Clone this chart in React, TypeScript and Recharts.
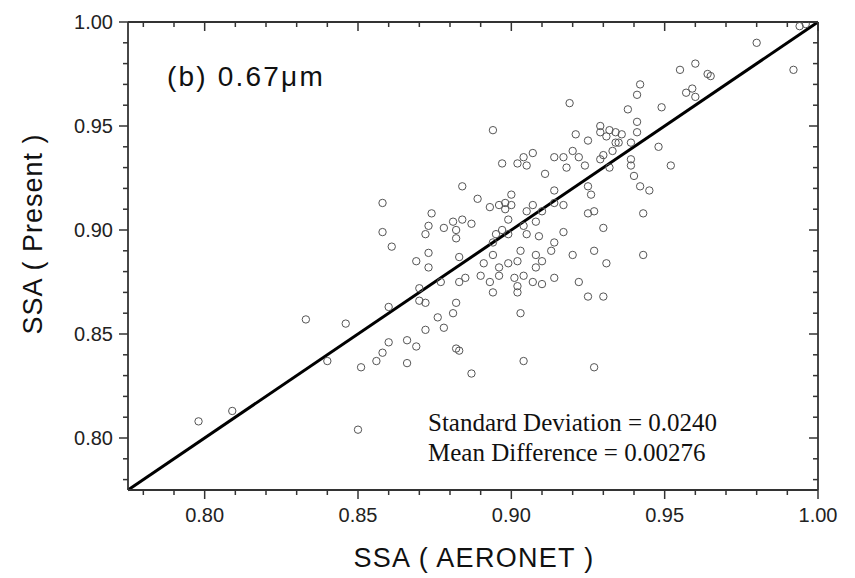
import { ScatterChart, Scatter, XAxis, YAxis, ReferenceLine } from "recharts";

// SSA at 0.67 um: AERONET (x) vs present retrieval (y)
const aeronetSSA = [
  0.798, 0.809, 0.833, 0.846, 0.840, 0.851, 0.850, 0.856, 0.858, 0.860,
  0.858, 0.858, 0.861, 0.860, 0.866, 0.869, 0.866, 0.870, 0.872, 0.870,
  0.877, 0.882, 0.881, 0.876, 0.878, 0.872, 0.882, 0.883, 0.887, 0.904,
  0.903, 0.920, 0.927, 0.931, 0.943, 0.914, 0.922, 0.925, 0.930, 0.927,
  0.942, 0.941, 0.919, 0.938, 0.949, 0.957, 0.959, 0.960, 0.941, 0.941,
  0.929, 0.932, 0.929, 0.934, 0.936, 0.921, 0.925, 0.931, 0.934, 0.935,
  0.939, 0.948, 0.952, 0.914, 0.917, 0.920, 0.922, 0.924, 0.918, 0.929,
  0.930, 0.933, 0.932, 0.939, 0.939, 0.940, 0.942, 0.945, 0.925, 0.926,
  0.914, 0.914, 0.917, 0.925, 0.927, 0.943, 0.930, 0.917, 0.914, 0.913,
  0.980, 0.992, 0.994, 0.996, 0.955, 0.960, 0.964, 0.965, 0.894, 0.897,
  0.902, 0.904, 0.907, 0.905, 0.911, 0.884, 0.889, 0.900, 0.893, 0.896,
  0.898, 0.898, 0.907, 0.905, 0.910, 0.908, 0.874, 0.873, 0.872, 0.878,
  0.881, 0.884, 0.887, 0.882, 0.882, 0.899, 0.897, 0.899, 0.895, 0.894,
  0.904, 0.905, 0.909, 0.873, 0.869, 0.873, 0.883, 0.894, 0.891, 0.903,
  0.883, 0.885, 0.890, 0.893, 0.896, 0.894, 0.901, 0.902, 0.902, 0.904,
  0.907, 0.910, 0.896, 0.899, 0.902, 0.908, 0.910, 0.908, 0.900,
];

const presentSSA = [
  0.808, 0.813, 0.857, 0.855, 0.837, 0.834, 0.804, 0.837, 0.841, 0.846,
  0.913, 0.899, 0.892, 0.863, 0.847, 0.844, 0.836, 0.866, 0.865, 0.872,
  0.875, 0.865, 0.860, 0.858, 0.853, 0.852, 0.843, 0.842, 0.831, 0.837,
  0.860, 0.888, 0.890, 0.884, 0.888, 0.877, 0.875, 0.868, 0.868, 0.834,
  0.970, 0.965, 0.961, 0.958, 0.959, 0.966, 0.968, 0.964, 0.952, 0.947,
  0.950, 0.948, 0.947, 0.947, 0.946, 0.946, 0.943, 0.945, 0.942, 0.942,
  0.942, 0.940, 0.931, 0.935, 0.935, 0.938, 0.935, 0.931, 0.930, 0.934,
  0.936, 0.938, 0.930, 0.934, 0.931, 0.926, 0.921, 0.919, 0.921, 0.917,
  0.919, 0.913, 0.912, 0.908, 0.909, 0.908, 0.901, 0.899, 0.894, 0.890,
  0.990, 0.977, 0.998, 0.999, 0.977, 0.980, 0.975, 0.974, 0.948, 0.932,
  0.932, 0.935, 0.937, 0.931, 0.927, 0.921, 0.915, 0.917, 0.911, 0.912,
  0.913, 0.910, 0.912, 0.909, 0.909, 0.904, 0.908, 0.902, 0.898, 0.901,
  0.904, 0.905, 0.903, 0.900, 0.896, 0.905, 0.900, 0.898, 0.898, 0.894,
  0.902, 0.898, 0.897, 0.889, 0.885, 0.882, 0.887, 0.888, 0.884, 0.890,
  0.875, 0.877, 0.878, 0.875, 0.878, 0.870, 0.877, 0.873, 0.870, 0.878,
  0.875, 0.874, 0.882, 0.884, 0.885, 0.888, 0.885, 0.882, 0.912,
];

const axisTicks = [
  0.78, 0.79, 0.8, 0.81, 0.82, 0.83, 0.84, 0.85, 0.86, 0.87, 0.88,
  0.89, 0.9, 0.91, 0.92, 0.93, 0.94, 0.95, 0.96, 0.97, 0.98, 0.99, 1.0,
];
const domain: [number, number] = [0.775, 1.0];

const data = aeronetSSA.map((x, i) => ({ x, y: presentSSA[i] }));

const AXIS = "#333";
const FONT = "'Liberation Sans', Arial, Helvetica, sans-serif";
const SERIF = "'Liberation Serif', 'Times New Roman', serif";
const isMajor = (v: number) => Math.round(v * 100) % 5 === 0;

const BottomTick = ({ x, y, payload }: any) => {
  const major = isMajor(payload.value);
  return (
    <g>
      <line x1={x} x2={x} y1={y} y2={y + (major ? 9 : 5)} stroke={AXIS} strokeWidth={1.5} />
      {major && (
        <text x={x} y={y + 32} textAnchor="middle" fontSize={20} fontFamily={FONT} fill="#222">
          {payload.value.toFixed(2)}
        </text>
      )}
    </g>
  );
};

const LeftTick = ({ x, y, payload }: any) => {
  const major = isMajor(payload.value);
  return (
    <g>
      <line x1={x} x2={x - (major ? 9 : 5)} y1={y} y2={y} stroke={AXIS} strokeWidth={1.5} />
      {major && (
        <text x={x - 15} y={y + 7} textAnchor="end" fontSize={20} fontFamily={FONT} fill="#222">
          {payload.value.toFixed(2)}
        </text>
      )}
    </g>
  );
};

// mirrored axes: ticks point into the plot, no labels
const TopTick = ({ x, y, payload }: any) => {
  const major = isMajor(payload.value);
  return <line x1={x} x2={x} y1={y} y2={y + (major ? 9 : 5)} stroke={AXIS} strokeWidth={1.5} />;
};

const RightTick = ({ x, y, payload }: any) => {
  const major = isMajor(payload.value);
  return <line x1={x} x2={x - (major ? 9 : 5)} y1={y} y2={y} stroke={AXIS} strokeWidth={1.5} />;
};

const OpenCircle = (props: any) => (
  <circle cx={props.cx} cy={props.cy} r={3.7} fill="none" stroke="#555" strokeWidth={1} />
);

export default function App() {
  return (
    <div style={{ position: "absolute", left: 0, top: 0, width: 855, height: 578, background: "#fff" }}>
      <ScatterChart width={855} height={578} margin={{ top: 21, right: 36, bottom: 0, left: 0 }}>
        <XAxis
          xAxisId="bottom"
          dataKey="x"
          type="number"
          domain={domain}
          ticks={axisTicks}
          interval={0}
          allowDataOverflow
          height={88}
          tickSize={0}
          tickMargin={0}
          tickLine={false}
          tick={<BottomTick />}
          axisLine={{ stroke: AXIS, strokeWidth: 1.8 }}
        />
        <XAxis
          xAxisId="top"
          orientation="top"
          dataKey="x"
          type="number"
          domain={domain}
          ticks={axisTicks}
          interval={0}
          allowDataOverflow
          height={1}
          tickSize={0}
          tickMargin={0}
          tickLine={false}
          tick={<TopTick />}
          axisLine={{ stroke: AXIS, strokeWidth: 1.8 }}
        />
        <YAxis
          yAxisId="left"
          dataKey="y"
          type="number"
          domain={domain}
          ticks={axisTicks}
          interval={0}
          allowDataOverflow
          width={128}
          tickSize={0}
          tickMargin={0}
          tickLine={false}
          tick={<LeftTick />}
          axisLine={{ stroke: AXIS, strokeWidth: 1.8 }}
        />
        <YAxis
          yAxisId="right"
          orientation="right"
          dataKey="y"
          type="number"
          domain={domain}
          ticks={axisTicks}
          interval={0}
          allowDataOverflow
          width={1}
          tickSize={0}
          tickMargin={0}
          tickLine={false}
          tick={<RightTick />}
          axisLine={{ stroke: AXIS, strokeWidth: 1.8 }}
        />
        <Scatter
          xAxisId="bottom"
          yAxisId="left"
          data={data}
          shape={OpenCircle}
          isAnimationActive={false}
        />
        <ReferenceLine
          xAxisId="bottom"
          yAxisId="left"
          segment={[
            { x: 0.775, y: 0.775 },
            { x: 1.0, y: 1.0 },
          ]}
          stroke="#000"
          strokeWidth={3}
          ifOverflow="visible"
        />
      </ScatterChart>
      <svg width={855} height={578} style={{ position: "absolute", left: 0, top: 0, pointerEvents: "none" }}>
        <text x={167} y={86} fontSize={28} fontFamily={FONT} fill="#111" letterSpacing={2.2}>
          (b) 0.67μm
        </text>
        <text x={474} y={567} textAnchor="middle" fontSize={27} fontFamily={FONT} fill="#111" letterSpacing={1.3}>
          SSA ( AERONET )
        </text>
        <text
          x={42}
          y={234}
          textAnchor="middle"
          fontSize={27}
          fontFamily={FONT}
          fill="#111"
          letterSpacing={1}
          transform="rotate(-90 42 234)"
        >
          SSA ( Present )
        </text>
        <text x={428} y={431} fontSize={25} fontFamily={SERIF} fill="#111">
          Standard Deviation = 0.0240
        </text>
        <text x={428} y={461} fontSize={25} fontFamily={SERIF} fill="#111">
          Mean Difference = 0.00276
        </text>
      </svg>
    </div>
  );
}
